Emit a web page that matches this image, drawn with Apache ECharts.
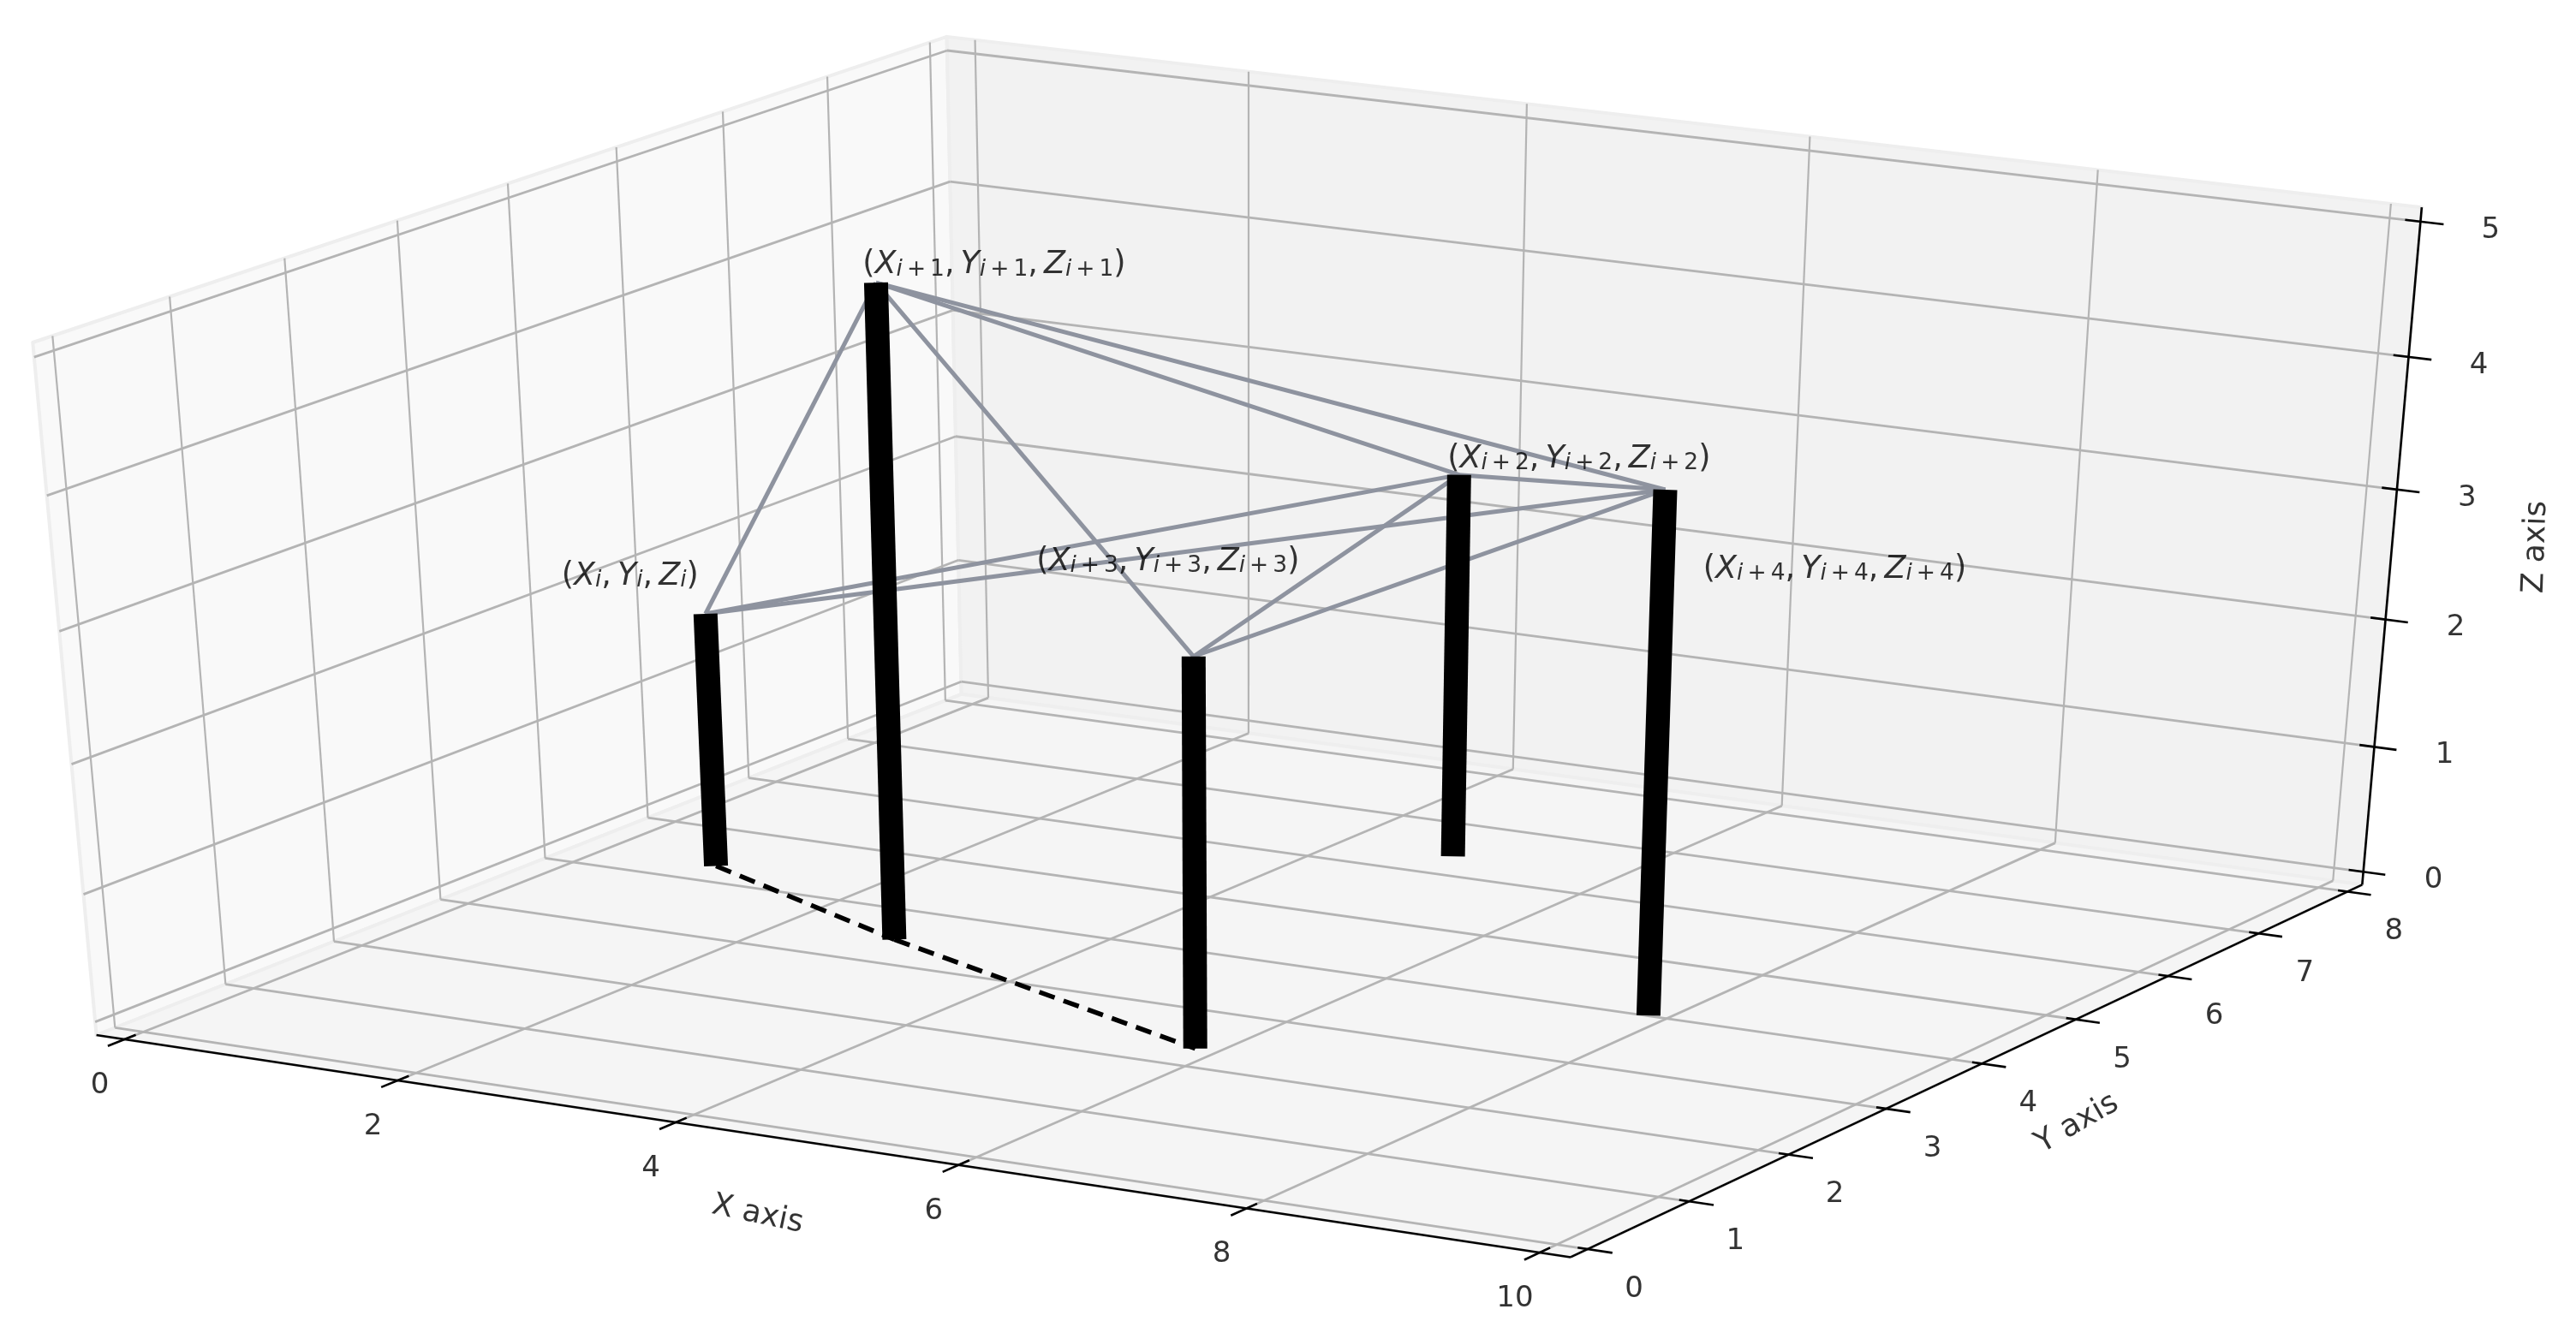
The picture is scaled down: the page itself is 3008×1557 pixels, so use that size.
<!DOCTYPE html>
<html>
<head>
<meta charset="utf-8">
<title>3D frame</title>
<script src="https://cdn.jsdelivr.net/npm/echarts@6/dist/echarts.min.js"></script>
<style>
html, body { margin: 0; padding: 0; background: #fff; }
#chart { width: 100vw; height: 100vh; }
</style>
</head>
<body>
<div id="chart"></div>
<script>
var xTicks = [0, 2, 4, 6, 8, 10];
var yTicks = [0, 1, 2, 3, 4, 5, 6, 7, 8];
var zTicks = [0, 1, 2, 3, 4, 5];

// points in order i, i+1, i+2, i+3, i+4
var pointSubs = ['i', 'i+1', 'i+2', 'i+3', 'i+4'];
var pointX = [1.03, 3, 4.98, 6, 8.02];
var pointY = [4.07, 3.22, 6.13, 2.1, 3.78];
var pointZ = [2, 5, 3, 3, 4];

var edgeFrom = [0, 0, 0, 1, 1, 1, 2, 3, 3];
var edgeTo = [1, 2, 4, 2, 3, 4, 4, 2, 4];
var basePath = [0, 1, 3];

// camera close to a default mplot3d view
var ELEV = 30 * Math.PI / 180, AZIM = -60 * Math.PI / 180, DIST = 10.5;
var HALF_XY = 0.55, HALF_Z = 0.5555, MARGIN = 1 / 48;
var xLo = -10 * MARGIN, xHi = 10 + 10 * MARGIN;
var yLo = -8 * MARGIN, yHi = 8 + 8 * MARGIN;
var zLo = -5 * MARGIN, zHi = 5 + 5 * MARGIN;

var W = [Math.cos(ELEV) * Math.cos(AZIM), Math.cos(ELEV) * Math.sin(AZIM), Math.sin(ELEV)];
var U = [-Math.sin(AZIM), Math.cos(AZIM), 0];
var V = [W[1] * U[2] - W[2] * U[1], W[2] * U[0] - W[0] * U[2], W[0] * U[1] - W[1] * U[0]];

function project(x, y, z) {
    var p = [
        HALF_XY * (2 * (x - xLo) / (xHi - xLo) - 1),
        HALF_XY * (2 * (y - yLo) / (yHi - yLo) - 1),
        HALF_Z * (2 * (z - zLo) / (zHi - zLo) - 1)
    ];
    var d = DIST - (p[0] * W[0] + p[1] * W[1] + p[2] * W[2]);
    return [
        (p[0] * U[0] + p[1] * U[1] + p[2] * U[2]) / d,
        (p[0] * V[0] + p[1] * V[1] + p[2] * V[2]) / d
    ];
}

function seg(a, b) {
    return a.concat(b);
}

function poly(points) {
    var out = [];
    points.forEach(function(p) {
        out = out.concat(project(p[0], p[1], p[2]));
    });
    return out;
}

// walls
var paneLeft = poly([[xLo, yLo, zLo], [xLo, yHi, zLo], [xLo, yHi, zHi], [xLo, yLo, zHi]]);
var paneBack = poly([[xLo, yHi, zLo], [xHi, yHi, zLo], [xHi, yHi, zHi], [xLo, yHi, zHi]]);
var paneFloor = poly([[xLo, yLo, zLo], [xHi, yLo, zLo], [xHi, yHi, zLo], [xLo, yHi, zLo]]);

var gridUp = [];
var gridFlat = [];
xTicks.forEach(function(x) {
    gridFlat.push(seg(project(x, yLo, zLo), project(x, yHi, zLo)));
    gridUp.push(seg(project(x, yHi, zLo), project(x, yHi, zHi)));
});
yTicks.forEach(function(y) {
    gridFlat.push(seg(project(xHi, y, zLo), project(xLo, y, zLo)));
    gridUp.push(seg(project(xLo, y, zLo), project(xLo, y, zHi)));
});
zTicks.forEach(function(z) {
    gridFlat.push(seg(project(xLo, yLo, z), project(xLo, yHi, z)));
    gridFlat.push(seg(project(xLo, yHi, z), project(xHi, yHi, z)));
});

var axisSegs = [
    seg(project(xLo, yLo, zLo), project(xHi, yLo, zLo)),
    seg(project(xHi, yLo, zLo), project(xHi, yHi, zLo)),
    seg(project(xHi, yHi, zLo), project(xHi, yHi, zHi))
];
var xRange = xHi - xLo, yRange = yHi - yLo;
xTicks.forEach(function(x) {
    axisSegs.push(seg(project(x, yLo - 0.018 * yRange, zLo), project(x, yLo + 0.012 * yRange, zLo)));
});
yTicks.forEach(function(y) {
    axisSegs.push(seg(project(xHi - 0.0065 * xRange, y, zLo), project(xHi + 0.016 * xRange, y, zLo)));
});
zTicks.forEach(function(z) {
    axisSegs.push(seg(project(xHi - 0.01 * xRange, yHi, z), project(xHi + 0.015 * xRange, yHi, z)));
});

var edgeSegs = edgeFrom.map(function(from, k) {
    var to = edgeTo[k];
    return seg(project(pointX[from], pointY[from], pointZ[from]), project(pointX[to], pointY[to], pointZ[to]));
});
var postSegs = pointX.map(function(x, k) {
    return seg(project(x, pointY[k], 0), project(x, pointY[k], pointZ[k]));
});
var baseSegs = [];
for (var b = 0; b < basePath.length - 1; b++) {
    var p0 = basePath[b], p1 = basePath[b + 1];
    baseSegs.push(seg(project(pointX[p0], pointY[p0], 0), project(pointX[p1], pointY[p1], 0)));
}

function segSeries(data, stroke, width, dash) {
    return {
        type: 'custom',
        coordinateSystem: 'cartesian2d',
        silent: true,
        clip: false,
        data: data,
        renderItem: function(params, api) {
            var a = api.coord([api.value(0), api.value(1)]);
            var b = api.coord([api.value(2), api.value(3)]);
            return {
                type: 'line',
                shape: { x1: a[0], y1: a[1], x2: b[0], y2: b[1] },
                style: { stroke: stroke, lineWidth: width, lineDash: dash || null, fill: null }
            };
        }
    };
}

function paneSeries(data, fill) {
    return {
        type: 'custom',
        coordinateSystem: 'cartesian2d',
        silent: true,
        clip: false,
        data: [data],
        renderItem: function(params, api) {
            var pts = [];
            for (var k = 0; k < 4; k++) {
                pts.push(api.coord([api.value(2 * k), api.value(2 * k + 1)]));
            }
            return {
                type: 'polygon',
                shape: { points: pts },
                style: { fill: fill, stroke: '#eeeeee', lineWidth: 4, lineJoin: 'round' }
            };
        }
    };
}

function textSeries(rows, labelStyle) {
    return {
        type: 'scatter',
        silent: true,
        symbolSize: 0,
        data: rows,
        label: Object.assign({
            show: true,
            position: 'inside',
            align: 'center',
            verticalAlign: 'middle',
            color: '#000',
            fontFamily: 'DejaVu Sans',
            fontSize: 34
        }, labelStyle)
    };
}

function tickRows(ticks, toPoint, offset) {
    return ticks.map(function(t) {
        var p = toPoint(t);
        return { value: p, label: { offset: offset, formatter: String(t) } };
    });
}

function mathLabel(sub) {
    var parts = sub.split('+');
    var s = '{si|' + parts[0] + '}';
    if (parts.length > 1) {
        s += '{op|+}{s|' + parts[1] + '}';
    }
    return '{m|(}{it|X}' + s + '{c|,}{it|Y}' + s + '{c|,}{it|Z}' + s + '{m|)}';
}

var richStyle = {
    m: { fontFamily: 'DejaVu Sans', fontSize: 36.5, lineHeight: 44, verticalAlign: 'bottom', color: '#000' },
    c: { fontFamily: 'DejaVu Sans', fontSize: 36.5, lineHeight: 44, verticalAlign: 'bottom', color: '#000', padding: [0, 7, 0, 0] },
    it: { fontFamily: 'DejaVu Sans', fontStyle: 'italic', fontSize: 36.5, lineHeight: 44, verticalAlign: 'bottom', color: '#000' },
    si: { fontFamily: 'DejaVu Sans', fontStyle: 'italic', fontSize: 26.5, lineHeight: 23, verticalAlign: 'bottom', color: '#000' },
    s: { fontFamily: 'DejaVu Sans', fontSize: 26.5, lineHeight: 23, verticalAlign: 'bottom', color: '#000' },
    op: { fontFamily: 'DejaVu Sans', fontSize: 26.5, lineHeight: 23, verticalAlign: 'bottom', color: '#000', padding: [0, 5, 0, 5] }
};

var labelOffsets = [[-88, -47], [138, -24], [140, -22], [-30, -114], [198, 90]];
var pointRows = pointSubs.map(function(sub, k) {
    return {
        value: project(pointX[k], pointY[k], pointZ[k]),
        label: { offset: labelOffsets[k], formatter: mathLabel(sub) }
    };
});

// label offset turns with the text, so undo the turn
function titleRow(point, text, rotate, dx, dy) {
    var t = rotate * Math.PI / 180;
    return {
        value: point,
        label: {
            rotate: rotate,
            formatter: text,
            offset: [dx * Math.cos(t) - dy * Math.sin(t), dx * Math.sin(t) + dy * Math.cos(t)]
        }
    };
}

var titleRows = [
    titleRow(project(5, yLo, zLo), 'X axis', -12, -69, 83),
    titleRow(project(xHi, 4, zLo), 'Y axis', 30, 111, 70),
    titleRow(project(xHi, yHi, 2.5), 'Z axis', 88, 169, -9)
];

var chart = echarts.init(document.getElementById('chart'));
chart.setOption({
    animation: false,
    backgroundColor: '#ffffff',
    grid: { left: 0, right: 0, top: 0, bottom: 0 },
    // hidden axes: screen x and y of the camera view
    xAxis: { type: 'value', show: false, min: -0.07679, max: 0.08176 },
    yAxis: { type: 'value', show: false, min: -0.09475, max: 0.08371 },
    series: [
        paneSeries(paneLeft, '#f9f9f9'),
        paneSeries(paneBack, '#f2f2f2'),
        paneSeries(paneFloor, '#f5f5f5'),
        segSeries(gridUp, '#b4b4b4', 2.2),
        segSeries(gridFlat, '#b4b4b4', 2.8),
        segSeries(axisSegs, '#000000', 2.6),
        segSeries(edgeSegs, '#8e939f', 5),
        segSeries(baseSegs, '#000000', 5.5, [19, 11]),
        segSeries(postSegs, '#000000', 28),
        textSeries(tickRows(xTicks, function(t) { return project(t, yLo, zLo); }, [-29, 54])),
        textSeries(tickRows(yTicks, function(t) { return project(xHi, t, zLo); }, [54, 47])),
        textSeries(tickRows(zTicks, function(t) { return project(xHi, yHi, t); }, [82, 10])),
        textSeries(titleRows, { fontSize: 36 }),
        textSeries(pointRows, { rich: richStyle })
    ]
});

window.onresize = function() {
    chart.resize();
};
</script>
</body>
</html>
